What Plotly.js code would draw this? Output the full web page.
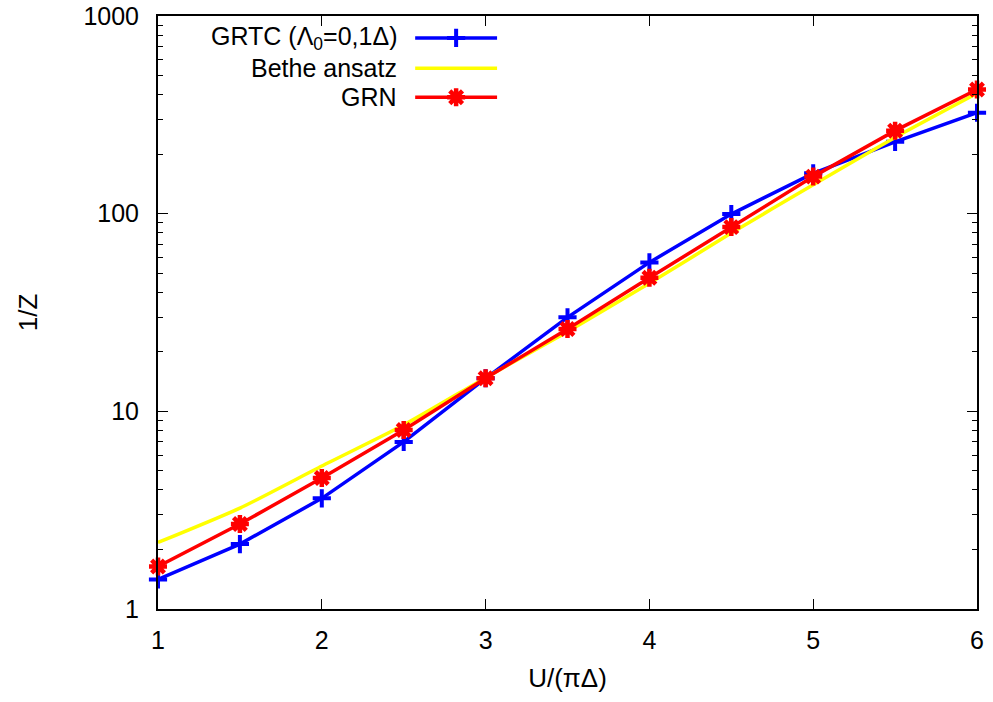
<!DOCTYPE html>
<html>
<head>
<meta charset="utf-8">
<script src="https://cdn.plot.ly/plotly-3.0.1.min.js"></script>
<style>html,body{margin:0;padding:0;background:#fff;}#chart{width:993px;height:702px;}</style>
</head>
<body>
<div id="chart"></div>
<script>
// ---- data ----
const U = [1, 1.5, 2, 2.5, 3, 3.5, 4, 4.5, 5, 5.5, 6];
const grtc = [1.41, 2.13, 3.63, 7.0, 14.7, 29.9, 56.7, 99.5, 160, 231, 324];
const bethe = [2.17, 3.24, 5.29, 8.53, 14.8, 25.3, 44.4, 79.8, 140, 243, 406];
const grn = [1.64, 2.69, 4.6, 8.04, 14.7, 26.1, 47.4, 85.5, 154, 263, 425];
const names = ["GRTC (\u039B<sub>0</sub>=0,1\u0394)", "Bethe ansatz", "GRN"];
const xTicks = [1, 2, 3, 4, 5, 6];
const yTicks = [1, 10, 100, 1000];
const yTickText = ["1", "10", "100", "1000"];

// ---- styles ----
const FONT = "Liberation Sans, Arial, sans-serif";
const BLUE = "#0000ff", YELLOW = "#ffff00", RED = "#ff0000";
const blueMarker = {symbol: "cross-thin-open", size: 13, line: {color: BLUE, width: 4}, color: BLUE};
const redMarker = {symbol: "asterisk-open", size: 15, line: {color: RED, width: 4.5}, color: RED};

const traces = [
  {x: U, y: grtc, mode: "lines+markers", line: {color: BLUE, width: 3.5}, marker: blueMarker, cliponaxis: false, showlegend: false},
  {x: U, y: bethe, mode: "lines", line: {color: YELLOW, width: 3.5, shape: "spline", smoothing: 0.6}, cliponaxis: false, showlegend: false},
  {x: U, y: grn, mode: "lines+markers", line: {color: RED, width: 3.5}, marker: redMarker, cliponaxis: false, showlegend: false}
];

// ---- custom legend (text left of the sample, like the original) ----
const legRows = [0.963, 0.912, 0.863];
const legX0 = 0.314, legX1 = 0.414, legXm = 0.364, legTextX = 0.293;
const legStyles = [
  {line: {color: BLUE, width: 3.5}, marker: blueMarker},
  {line: {color: YELLOW, width: 3.5}, marker: null},
  {line: {color: RED, width: 3.5}, marker: redMarker}
];
const annotations = [];
legStyles.forEach((s, i) => {
  traces.push({x: [legX0, legX1], y: [legRows[i], legRows[i]], xaxis: "x2", yaxis: "y2",
    mode: "lines", line: s.line, showlegend: false, hoverinfo: "skip", cliponaxis: false});
  if (s.marker) {
    traces.push({x: [legXm], y: [legRows[i]], xaxis: "x2", yaxis: "y2",
      mode: "markers", marker: s.marker, showlegend: false, hoverinfo: "skip", cliponaxis: false});
  }
  annotations.push({xref: "paper", yref: "paper", x: legTextX, y: legRows[i], text: names[i],
    showarrow: false, xanchor: "right", yanchor: "middle", borderpad: 0,
    font: {family: FONT, size: 25, color: "#000"}});
});

const layout = {
  width: 993, height: 702,
  margin: {l: 158, r: 16, t: 16, b: 93},
  paper_bgcolor: "#fff", plot_bgcolor: "#fff",
  font: {family: FONT, size: 25, color: "#000"},
  showlegend: false,
  xaxis: {
    range: [1, 6], tickvals: xTicks, ticks: "inside", ticklen: 10, tickwidth: 1, tickcolor: "#000",
    showline: true, linecolor: "#000", linewidth: 2, mirror: "ticks", showgrid: false, zeroline: false,
    tickfont: {family: FONT, size: 25}, ticklabelstandoff: 8,
    title: {text: "U/(\u03C0\u0394)", font: {family: FONT, size: 26}, standoff: 16}
  },
  yaxis: {
    type: "log", range: [0, 3], tickvals: yTicks, ticktext: yTickText, ticks: "inside", ticklen: 10, tickwidth: 1,
    tickcolor: "#000", showline: true, linecolor: "#000", linewidth: 2, mirror: "ticks", showgrid: false, zeroline: false,
    tickfont: {family: FONT, size: 25}, ticklabelstandoff: 12,
    minor: {ticks: "inside", ticklen: 5, tickwidth: 1, tickcolor: "#000", dtick: "D1", showgrid: false},
    title: {text: "1/Z", font: {family: FONT, size: 26}, standoff: 38}
  },
  xaxis2: {overlaying: "x", range: [0, 1], visible: false, anchor: "y2"},
  yaxis2: {overlaying: "y", range: [0, 1], visible: false, anchor: "x2"},
  annotations: annotations
};

Plotly.newPlot("chart", traces, layout, {displayModeBar: false, staticPlot: true});
</script>
</body>
</html>
